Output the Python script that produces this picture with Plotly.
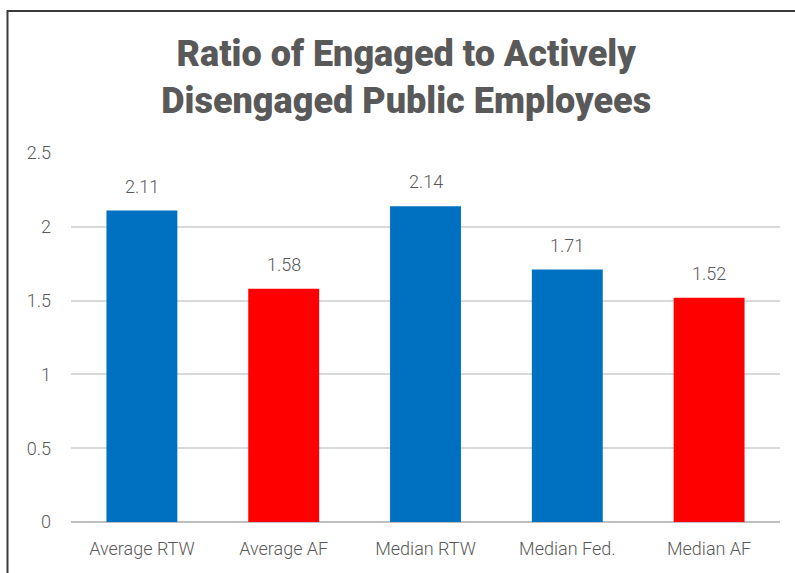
import plotly.graph_objects as go

categories = ["Average RTW", "Average AF", "Median RTW", "Median Fed.", "Median AF"]
values = [2.11, 1.58, 2.14, 1.71, 1.52]
bar_colors = ["#0070C0", "#FF0000", "#0070C0", "#0070C0", "#FF0000"]
y_ticks = [0, 0.5, 1, 1.5, 2, 2.5]
y_tick_labels = ["0", "0.5", "1", "1.5", "2", "2.5"]

W, H = 795, 573
L, R, T, B = 71, 15, 153, 51
pw, ph = W - L - R, H - T - B
TEXT = "#595959"


def px_x(p):
    return (p - L) / pw


def px_y(p):
    return (H - B - p) / ph


fig = go.Figure(
    go.Bar(
        x=categories,
        y=values,
        marker=dict(color=bar_colors, line=dict(width=0)),
        width=0.5,
        hoverinfo="x+y",
    )
)

# value labels above each bar
for cat, v in zip(categories, values):
    fig.add_annotation(
        x=cat,
        y=v,
        text=f"{v:.2f}",
        showarrow=False,
        yanchor="bottom",
        yshift=12,
        font=dict(family="Roboto", size=18, color=TEXT, weight=300),
    )

fig.update_layout(
    width=W,
    height=H,
    margin=dict(l=L, r=R, t=T, b=B),
    paper_bgcolor="white",
    plot_bgcolor="white",
    showlegend=False,
    title=dict(
        text="Ratio of Engaged to Actively<br>Disengaged Public Employees",
        font=dict(family="Roboto", size=36, color=TEXT, weight=900),
        x=0.511,
        xanchor="center",
        y=1 - 66 / H,
        yanchor="middle",
    ),
    xaxis=dict(
        showline=False,
        showgrid=False,
        ticks="",
        ticklabelstandoff=14,
        tickfont=dict(family="Roboto", size=18, color=TEXT, weight=300),
    ),
    yaxis=dict(
        range=[0, 2.5],
        tickvals=y_ticks,
        ticktext=y_tick_labels,
        showgrid=True,
        gridcolor="#d9d9d9",
        gridwidth=1.5,
        zeroline=True,
        zerolinecolor="#bfbfbf",
        zerolinewidth=1.5,
        ticks="",
        ticklabelstandoff=19,
        tickfont=dict(family="Roboto", size=18, color=TEXT, weight=300),
    ),
)

# outer frame
fig.add_shape(
    type="rect",
    xref="paper",
    yref="paper",
    x0=px_x(7.5),
    x1=px_x(810),
    y0=px_y(590),
    y1=px_y(11),
    line=dict(color="#3a3a3a", width=2),
    layer="below",
)

fig.write_html("out.html")
